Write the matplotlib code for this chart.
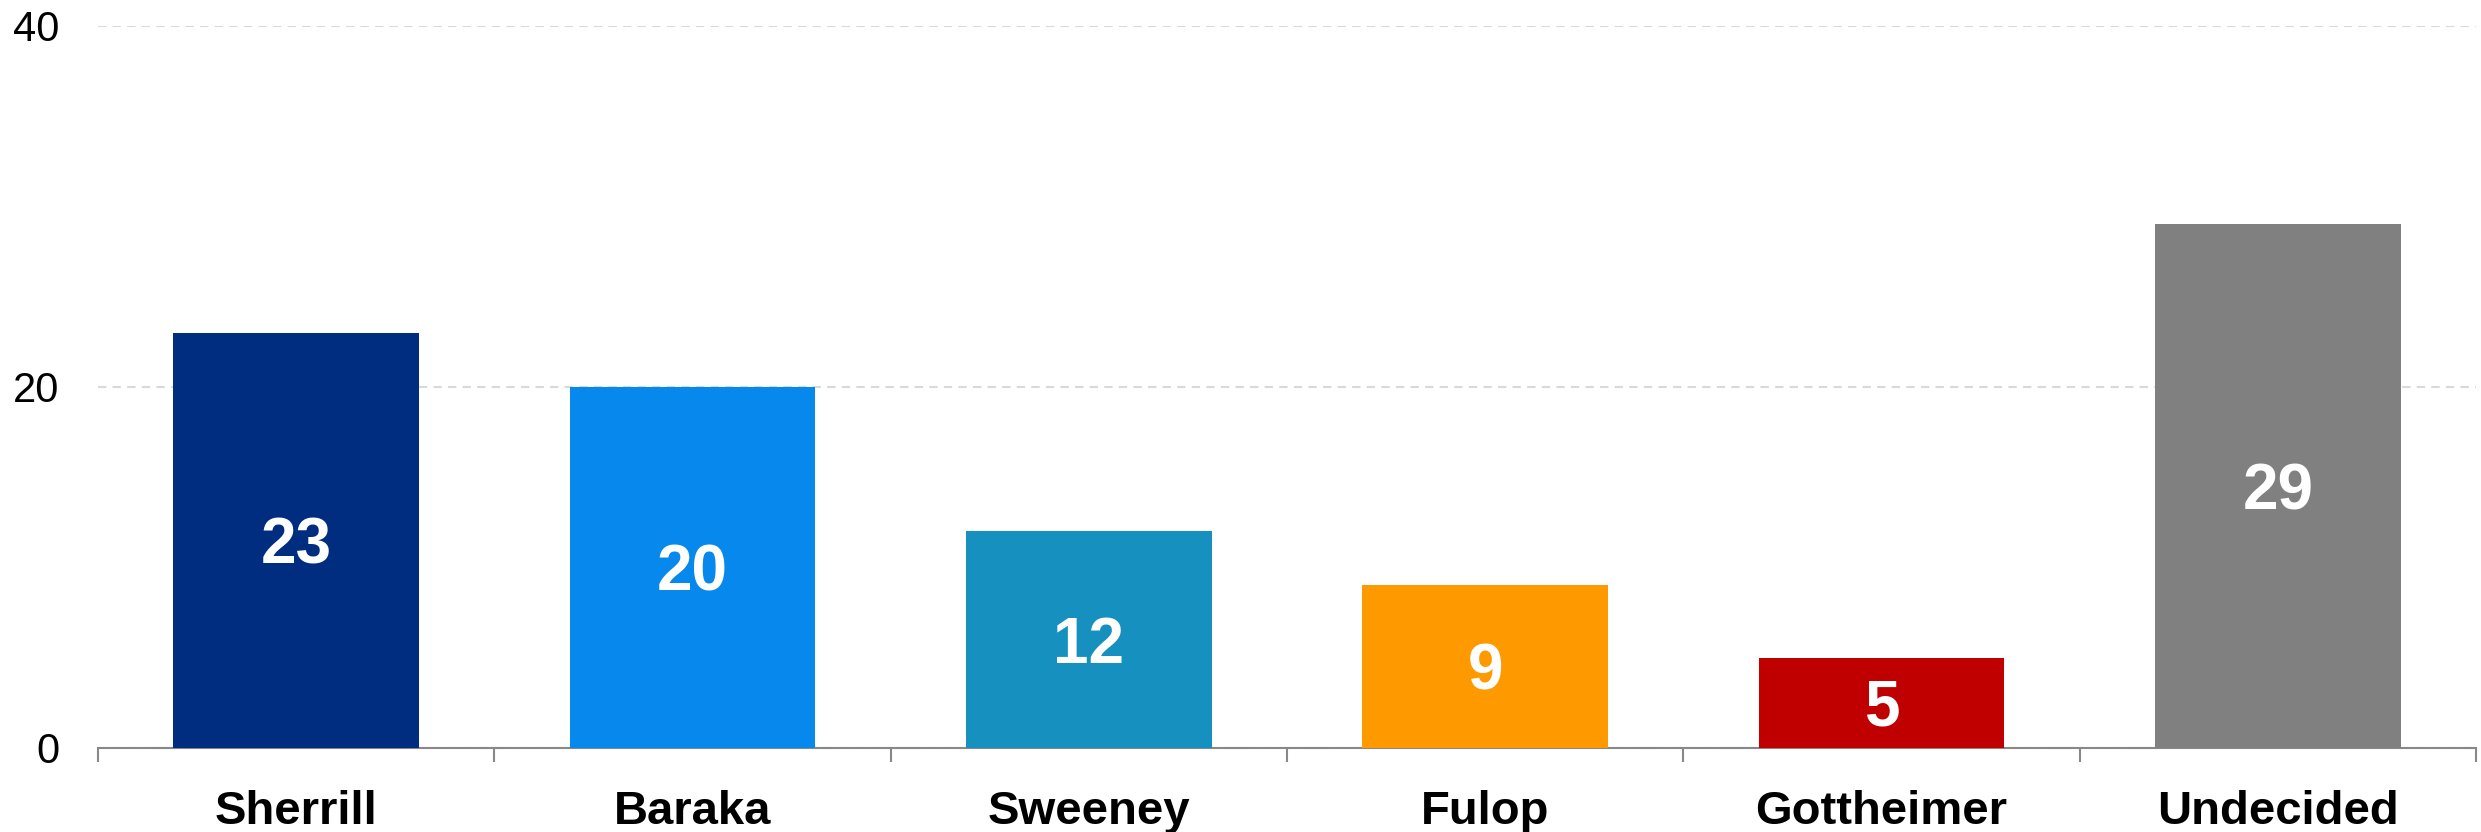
import matplotlib
matplotlib.use('Agg')
import matplotlib.pyplot as plt
from matplotlib.ticker import FixedLocator

candidates = ['Sherrill', 'Baraka', 'Sweeney', 'Fulop', 'Gottheimer', 'Undecided']
support = [23, 20, 12, 9, 5, 29]
colors = ['#002D80', '#0788EC', '#1690BE', '#FF9900', '#C00000', '#808080']
y_ticks = [0, 20, 40]

plt.rcParams['font.family'] = ['Liberation Sans', 'DejaVu Sans']

fig = plt.figure(figsize=(24.81, 8.32), dpi=100)
ax = fig.add_axes([0.0395, 0.101, 0.9585, 0.868])

xs = range(len(candidates))
bars = ax.bar(xs, support, width=0.62, color=colors, zorder=3)

# value labels, digits centred visually in each bar
for bar, val in zip(bars, support):
    ax.annotate(str(val), (bar.get_x() + bar.get_width() / 2, val / 2),
                xytext=(0, -16.5), textcoords='offset points',
                ha='center', va='baseline', color='white', fontsize=46,
                fontweight='bold', zorder=4)

ax.set_xlim(-0.5, len(candidates) - 0.5)
ax.set_ylim(0, 40)
ax.set_yticks(y_ticks)
ax.tick_params(axis='y', length=0, pad=28, labelsize=30)

ax.set_xticks(list(xs))
ax.set_xticklabels(candidates, fontsize=34, fontweight='bold')
ax.tick_params(axis='x', which='major', length=0, pad=30)
ax.xaxis.set_minor_locator(FixedLocator([i - 0.5 for i in range(len(candidates) + 1)]))
ax.tick_params(axis='x', which='minor', length=10, width=1.5, color='#888888')

ax.grid(True, axis='y', linestyle=(0, (4, 3)), color='#d9d9d9', linewidth=1.5, zorder=0)
for side in ['top', 'right', 'left']:
    ax.spines[side].set_visible(False)
ax.spines['bottom'].set_color('#888888')
ax.spines['bottom'].set_linewidth(1.5)

fig.savefig('out.png', dpi=100)
